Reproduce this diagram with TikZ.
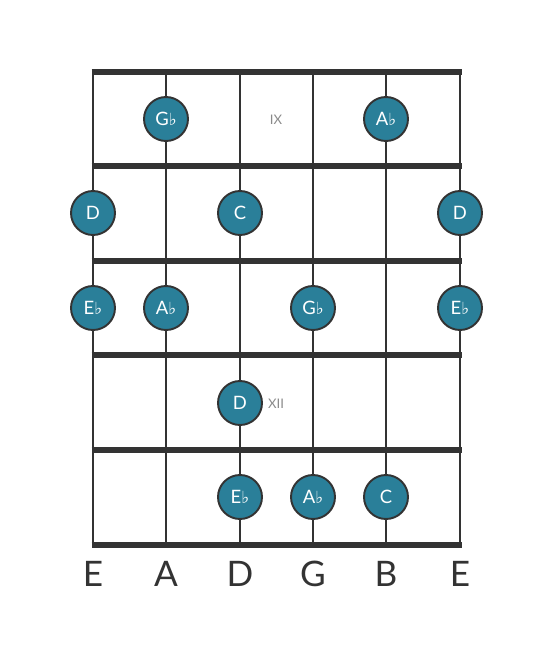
\documentclass[tikz,border=0pt]{standalone}
\usepackage{fontspec}
\setmainfont{Lato}
\newfontfamily\flatfont{DejaVu Sans}
\usetikzlibrary{positioning}
\definecolor{notefill}{HTML}{2A7F99}
\definecolor{gridgray}{HTML}{333333}
\definecolor{fretnum}{HTML}{8A8A8A}
\newcommand{\flatsign}{{\flatfont\fontsize{9.5}{9.5}\selectfont ♭}}

\begin{document}
\begin{tikzpicture}[x=0.02cm, y=-0.02cm,
    note/.style={circle,
        draw=gridgray,
        line width=1.1pt,
        fill=notefill,
        minimum size=0.88cm,
        inner sep=0pt,
        text=white,
        font=\fontsize{10.5}{12}\selectfont
    },
    fretlabel/.style={text=fretnum, font=\fontsize{7.5}{8}\selectfont},
    stringname/.style={text=gridgray, font=\fontsize{20}{22}\selectfont}
]
    \useasboundingbox (0,0) rectangle (553,656);
    % Strings
    \foreach \x in {93,166,240,313,386,460}
        \draw[gridgray, line width=1.7pt] (\x,72) -- (\x,545);
    % Frets
    \foreach \y in {72,166,261,355,450,545}
        \draw[gridgray, line width=2.9pt] (91.5,\y) -- (461.5,\y);

    % Fret numbers
    \node[fretlabel] (FretIX) at (276,120) {IX};
    \node[fretlabel] (FretXII) at (276,404) {XII};

    % Fret 9
    \node[note] (NoteGbA) at (166,119) {G\flatsign};
    \node[note] (NoteAbB) at (386,119) {A\flatsign};
    % Fret 10
    \node[note] (NoteDE) at (93,213) {D};
    \node[note] (NoteCD) at (240,213) {C};
    \node[note] (NoteDe) at (460,213) {D};
    % Fret 11
    \node[note] (NoteEbE) at (93,308) {E\flatsign};
    \node[note] (NoteAbA) at (166,308) {A\flatsign};
    \node[note] (NoteGbG) at (313,308) {G\flatsign};
    \node[note] (NoteEbe) at (460,308) {E\flatsign};
    % Fret 12
    \node[note] (NoteDD) at (240,403) {D};
    % Fret 13
    \node[note] (NoteEbD) at (240,497) {E\flatsign};
    \node[note] (NoteAbG) at (313,497) {A\flatsign};
    \node[note] (NoteCB) at (386,497) {C};

    % String names
    \foreach \x/\s [count=\i] in {93/E,166/A,240/D,313/G,386/B,460/E}
        \node[stringname] (String\i) at (\x,574) {\s};
\end{tikzpicture}
\end{document}
